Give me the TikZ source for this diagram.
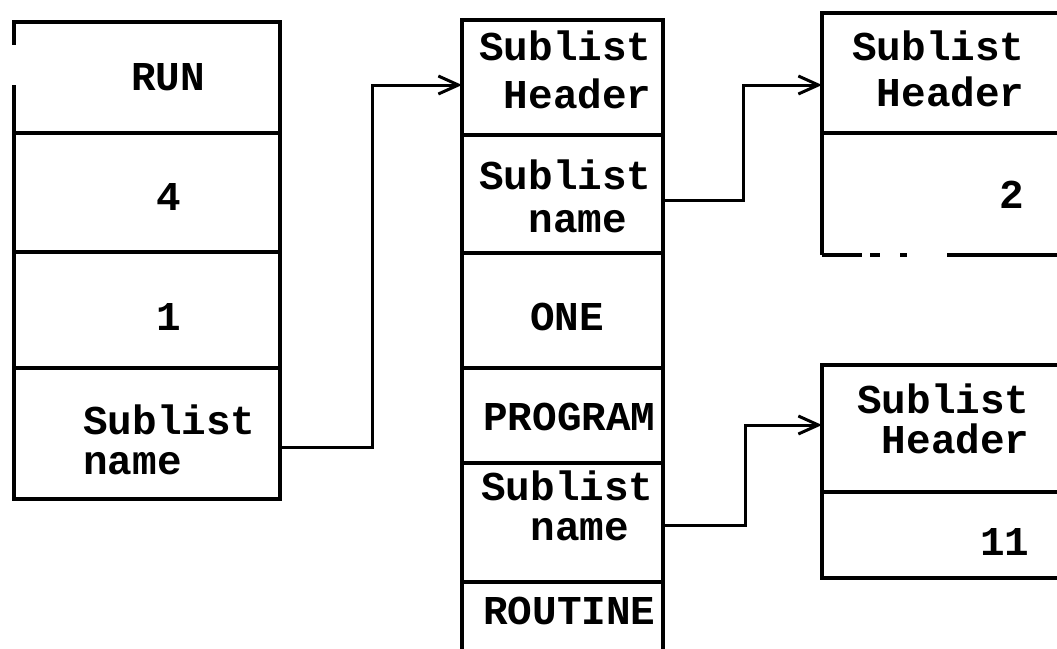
\documentclass[tikz,border=0pt]{standalone}
\usepackage{fontspec}
\setmonofont{Liberation Mono}
\usetikzlibrary{arrows.meta}
\begin{document}
\begin{tikzpicture}[x=1pt,y=-1pt,
  cell/.style={draw,line width=3.4pt,inner sep=0pt,outer sep=0pt,anchor=north west,rectangle},
  cellbare/.style={inner sep=0pt,outer sep=0pt,anchor=north west,rectangle},
  edge/.style={line width=3.4pt},
  txt/.style={anchor=base west,inner sep=0pt,font=\ttfamily\bfseries\fontsize{41}{41}\selectfont},
  conn/.style={line width=3pt,-{Straight Barb[length=20pt,width=18pt]}},
]
\useasboundingbox (0,0) rectangle (1057,648);
\clip (0,0) rectangle (1057,648);

% left list
\node[cell, minimum width=266pt, minimum height=111pt] (L1) at (14,22) {};
\node[cell, minimum width=266pt, minimum height=119pt] (L2) at (14,133) {};
\node[cell, minimum width=266pt, minimum height=116pt] (L3) at (14,252) {};
\node[cell, minimum width=266pt, minimum height=131pt] (L4) at (14,368) {};
\draw[white, line width=5pt] ([yshift=-23pt]L1.north west) -- ([yshift=-63pt]L1.north west);

% middle list
\node[cell, minimum width=201pt, minimum height=115pt] (M1) at (462,20) {};
\node[cell, minimum width=201pt, minimum height=118pt] (M2) at (462,135) {};
\node[cell, minimum width=201pt, minimum height=115pt] (M3) at (462,253) {};
\node[cell, minimum width=201pt, minimum height=95pt] (M4) at (462,368) {};
\node[cell, minimum width=201pt, minimum height=119pt] (M5) at (462,463) {};
\node[cell, minimum width=201pt, minimum height=130pt] (M6) at (462,582) {};

% top right list
\node[cell, minimum width=300pt, minimum height=120pt] (R1) at (822,13) {};
\node[cellbare, minimum width=300pt, minimum height=122pt] (R2) at (822,133) {};
\draw[edge] (R2.north west) -- (R2.south west);
\draw[edge, dash pattern=on 40pt off 8pt on 10pt off 20pt on 7pt off 40pt on 400pt off 1pt] (R2.south west) -- (R2.south east);

% bottom right list
\node[cell, minimum width=300pt, minimum height=127pt] (S1) at (822,365) {};
\node[cell, minimum width=300pt, minimum height=86pt] (S2) at (822,492) {};

% texts
\node[txt] (L1t) at (131,90) {RUN};
\node[txt] (L2t) at (156,210) {4};
\node[txt] (L3t) at (156,330) {1};
\node[txt] (L4a) at (83,434) {Sublist};
\node[txt] (L4b) at (83,474) {name};

\node[txt] (M1a) at (479,60) {Sublist};
\node[txt] (M1b) at (479,108) {\phantom{S}Header};
\node[txt] (M2a) at (479,189) {Sublist};
\node[txt] (M2b) at (479,232) {\phantom{Su}name};
\node[txt] (M3t) at (530,330) {ONE};
\node[txt] (M4t) at (483,430) {PROGRAM};
\node[txt] (M5a) at (481,500) {Sublist};
\node[txt] (M5b) at (481,540) {\phantom{Su}name};
\node[txt] (M6t) at (483,624) {ROUTINE};

\node[txt] (R1a) at (852,60) {Sublist};
\node[txt] (R1b) at (852,106) {\phantom{S}Header};
\node[txt] (R2t) at (852,208) {\phantom{SSSSSS}2};

\node[txt] (S1a) at (857,413) {Sublist};
\node[txt] (S1b) at (857,453) {\phantom{S}Header};
\node[txt] (S2t) at (857,555) {\phantom{SSSSS}11};

% connectors
\draw[conn] ([yshift=-14pt]L4.east) -- ++(92,0) |- ([yshift=-7.5pt]M1.west);
\draw[conn] ([yshift=-6pt]M2.east) -- ++(80,0) |- ([yshift=-12pt]R1.west);
\draw[conn] ([yshift=-2.5pt]M5.east) -- ++(82,0) |- ([yshift=3.5pt]S1.west);
\end{tikzpicture}
\end{document}
